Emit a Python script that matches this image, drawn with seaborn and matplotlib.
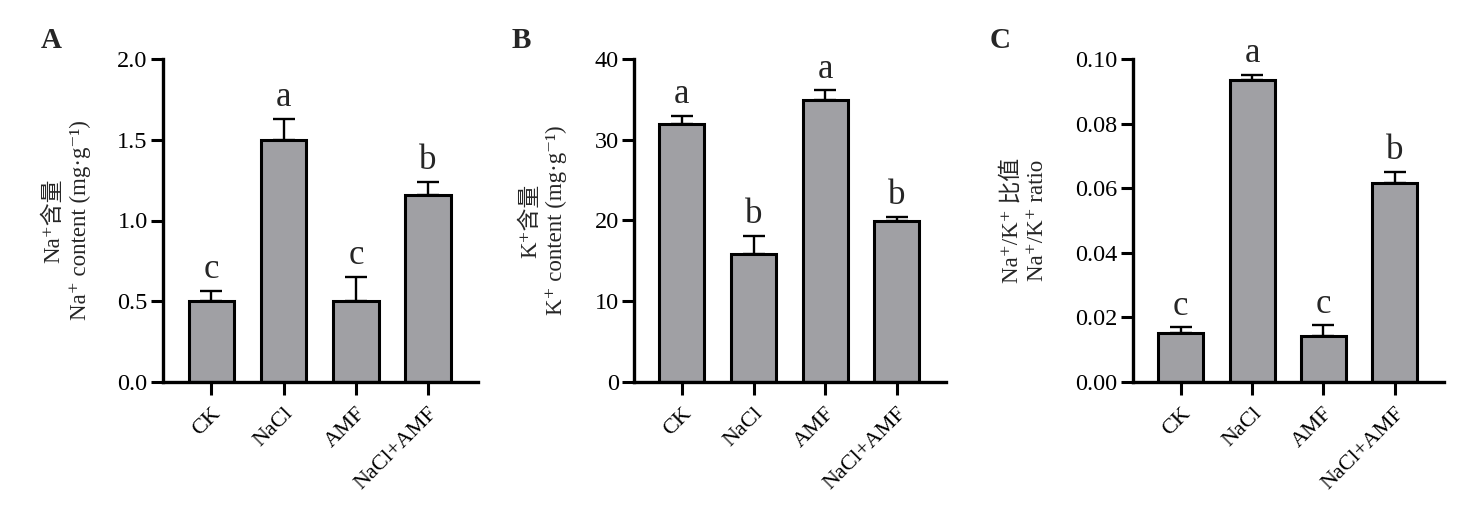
import matplotlib
matplotlib.use("Agg")
import matplotlib.pyplot as plt
import seaborn as sns
import pandas as pd

# treatments and values
treatments = ["CK", "NaCl", "AMF", "NaCl+AMF"]

na_content = [0.50, 1.50, 0.50, 1.155]
na_err = [0.062, 0.13, 0.15, 0.085]
na_letters = ["c", "a", "c", "b"]

k_content = [31.9, 15.9, 34.9, 19.9]
k_err = [1.0, 2.2, 1.2, 0.55]
k_letters = ["a", "b", "a", "b"]

ratio = [0.0153, 0.0935, 0.0141, 0.0615]
ratio_err = [0.0016, 0.0017, 0.0034, 0.0035]
ratio_letters = ["c", "a", "c", "b"]

sns.set_theme(style="ticks")
FONTS = ["Liberation Serif", "DejaVu Serif", "Noto Sans CJK SC"]
plt.rcParams["font.family"] = FONTS
plt.rcParams["axes.unicode_minus"] = False

BAR_COLOR = "#a0a0a4"

panels = [
    dict(tag="A", vals=na_content, err=na_err, letters=na_letters,
         ylabel="Na⁺含量\nNa⁺ content (mg·g⁻¹)", ylim=(0, 2.0),
         ticks=[0.0, 0.5, 1.0, 1.5, 2.0], fmt="{:.1f}",
         left=163, right=478, labx=-0.305, off=0.03, tagx=51),
    dict(tag="B", vals=k_content, err=k_err, letters=k_letters,
         ylabel="K⁺含量\nK⁺ content (mg·g⁻¹)", ylim=(0, 40),
         ticks=[0, 10, 20, 30, 40], fmt="{:d}",
         left=634, right=946, labx=-0.29, off=0.6, tagx=521),
    dict(tag="C", vals=ratio, err=ratio_err, letters=ratio_letters,
         ylabel="Na⁺/K⁺ 比值\nNa⁺/K⁺ ratio", ylim=(0, 0.10),
         ticks=[0.0, 0.02, 0.04, 0.06, 0.08, 0.10], fmt="{:.2f}",
         left=1133, right=1444, labx=-0.35, off=0.0015, tagx=1000),
]

W, H = 1470, 517
fig = plt.figure(figsize=(W / 100, H / 100), dpi=100)

for p in panels:
    ax = fig.add_axes([p["left"] / W, (H - 382) / H,
                       (p["right"] - p["left"]) / W, 323 / H])
    df = pd.DataFrame({"treatment": treatments, "value": p["vals"]})
    sns.barplot(data=df, x="treatment", y="value", ax=ax, color=BAR_COLOR,
                saturation=1, width=0.63, edgecolor="black", linewidth=2.2,
                errorbar=None)
    xs = list(range(len(treatments)))
    ax.errorbar(xs, p["vals"], yerr=[[0] * 4, p["err"]], fmt="none",
                ecolor="black", elinewidth=1.7, capsize=8, capthick=1.7,
                zorder=1)
    for x, v, e, lab in zip(xs, p["vals"], p["err"], p["letters"]):
        ax.text(x, v + e + p["off"], lab, ha="center", va="bottom",
                fontsize=25, family=FONTS)

    ax.set_xlim(-0.67, 3.69)
    ax.set_ylim(*p["ylim"])
    ax.set_yticks(p["ticks"])
    ax.set_yticklabels([p["fmt"].format(t) for t in p["ticks"]])
    ax.set_xlabel("")
    ax.set_ylabel(p["ylabel"], fontsize=16.5, linespacing=1.3)
    ax.yaxis.set_label_coords(p["labx"], 0.5)
    ax.yaxis.label.set_verticalalignment("center")
    plt.setp(ax.get_xticklabels(), rotation=45, ha="right",
             rotation_mode="anchor", fontsize=16)
    plt.setp(ax.get_yticklabels(), fontsize=17.5)
    ax.tick_params(axis="both", length=9, width=2.2, color="black",
                   labelcolor="black")
    ax.tick_params(axis="x", pad=7)
    ax.tick_params(axis="y", pad=2)
    sns.despine(ax=ax)
    for s in ("left", "bottom"):
        ax.spines[s].set_linewidth(2.4)
        ax.spines[s].set_color("black")
    ax.set_facecolor("white")

    fig.text(p["tagx"] / W, 1 - 40 / H, p["tag"], ha="center", va="center",
             fontsize=21, fontweight="bold", family=FONTS)

fig.savefig("out.png", dpi=100, facecolor="white")
